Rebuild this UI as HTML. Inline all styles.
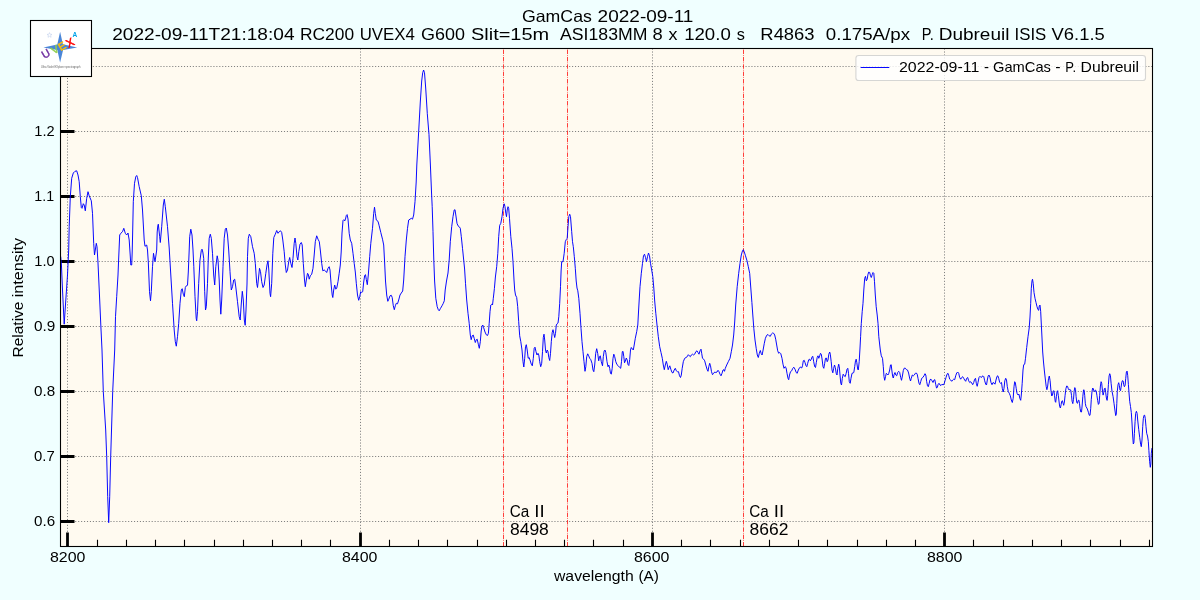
<!DOCTYPE html>
<html lang="en"><head><meta charset="utf-8"><title>GamCas 2022-09-11</title>
<style>html,body{margin:0;padding:0;background:#f0ffff;width:1200px;height:600px;overflow:hidden}svg{will-change:transform;position:absolute;left:0;top:0;display:block}text{font-family:"Liberation Sans",sans-serif;fill:#000}</style></head><body>
<svg width="1200" height="600" viewBox="0 0 1200 600">
<rect x="0" y="0" width="1200" height="600" fill="#f0ffff"/>
<rect x="60.5" y="48.5" width="1092.0" height="498.0" fill="#fffaf0"/>
<path d="M67.5 546.5V48.5M360.5 546.5V48.5M652.5 546.5V48.5M944.5 546.5V48.5M60.5 521.5H1152.5M60.5 456.5H1152.5M60.5 391.5H1152.5M60.5 326.5H1152.5M60.5 261.5H1152.5M60.5 196.5H1152.5M60.5 131.5H1152.5M60.5 66.5H1152.5" fill="none" stroke="#808080" stroke-width="1" stroke-dasharray="1.11 1.83"/>
<path d="M67.5 546.5v-14M360.5 546.5v-14M652.5 546.5v-14M944.5 546.5v-14M60.5 521.5h14M60.5 456.5h14M60.5 391.5h14M60.5 326.5h14M60.5 261.5h14M60.5 196.5h14M60.5 131.5h14" fill="none" stroke="#000" stroke-width="2.8"/>
<path d="M97.5 546.5v-6.8M126.5 546.5v-6.8M155.5 546.5v-6.8M184.5 546.5v-6.8M214.5 546.5v-6.8M243.5 546.5v-6.8M272.5 546.5v-6.8M301.5 546.5v-6.8M330.5 546.5v-6.8M389.5 546.5v-6.8M418.5 546.5v-6.8M447.5 546.5v-6.8M477.5 546.5v-6.8M506.5 546.5v-6.8M535.5 546.5v-6.8M564.5 546.5v-6.8M593.5 546.5v-6.8M623.5 546.5v-6.8M681.5 546.5v-6.8M710.5 546.5v-6.8M740.5 546.5v-6.8M769.5 546.5v-6.8M798.5 546.5v-6.8M827.5 546.5v-6.8M857.5 546.5v-6.8M886.5 546.5v-6.8M915.5 546.5v-6.8M973.5 546.5v-6.8M1003.5 546.5v-6.8M1032.5 546.5v-6.8M1061.5 546.5v-6.8M1090.5 546.5v-6.8M1120.5 546.5v-6.8M1149.5 546.5v-6.8" fill="none" stroke="#000" stroke-width="1.1"/>
<path d="M503.5 546.5V48.5M567.5 546.5V48.5M743.5 546.5V48.5" fill="none" stroke="#ff0000" stroke-width="0.75" stroke-dasharray="4.45 1.1 0.7 1.1"/>
<clipPath id="c"><rect x="60.5" y="48.5" width="1092.0" height="498.0"/></clipPath>
<path clip-path="url(#c)" d="M60.7,256.5 61.4,264 62.5,290 64.2,324.2 65.8,300 67.5,275 68.7,250 69.2,226.7 70.3,196.7 71.7,178.3 73.3,173 75,171.3 76.7,170.8 78,175 79.2,181.7 80.3,196.7 81.3,207.5 82,208.3 83.3,203.7 84.2,205 85.3,210.8 86.7,198.3 88,191.7 89.2,195.8 91.3,200.8 92.5,213.3 93.7,243.3 94.5,255 95.3,250 96.3,243.3 97,246.7 98,263 99.7,300 100.8,325 102,350 103.3,391.7 105.7,430 106.7,456.7 107.7,496.7 108.7,522.7 109.7,496.7 110.7,456.7 112.7,391.7 114.7,350 115.5,316.7 116.7,296.7 118,275 118.7,258 119.7,235 120.8,233.3 122.5,231.7 123.8,228.3 125.3,233.3 126.7,235 128,233 129.2,240 130.2,255 130.8,265 131.7,265 132.2,252 132.6,235 133.3,201.7 134.5,183.3 135.8,176.7 136.7,175.5 137.5,177.5 139.2,186.7 141.3,195.8 142.5,210 144.2,240 145,246.3 146.7,245 147.5,250 148.3,262 149.5,291.7 150.5,300.8 151.3,291.7 152.5,266.7 153.5,253.3 154.5,259 155,261.7 156,255 156.7,250 157.2,232 157.8,226 158.3,224.2 159.7,236.7 160.3,242.5 161.7,226.7 163.3,205 164.3,199.2 165.3,206.7 167.5,226.7 169.2,248 170.8,275 172.5,303.3 174.2,330 175.3,341.7 176.3,346.2 177.5,336.7 178.7,323.3 180,303.3 181.3,290 182.2,288.7 183.3,294.2 184.3,296.7 185.3,287.5 186.3,285.8 187.5,285.3 188.3,272 189.2,250 189.7,236.7 190.8,229.2 192,235 193,250 193.8,266.7 195,296.7 196.2,318.3 196.7,320.8 197.5,311.7 198.7,283.3 200,260 201.3,250.5 202,249.2 202.8,252 203.7,258.3 204.7,291.7 205.5,310 206.3,306.7 207.5,283.3 208.3,258 209.2,238.3 210.3,234.2 211.3,238.3 212.5,253.3 213.7,275 214.7,285 215.8,266.7 217.2,255.8 218,260 219.2,280 220,300 220.8,314.2 221.7,300 222.5,280 223,266.7 224.2,238.3 225.3,229.2 226.3,228 227.5,235 228.7,250 230,271.7 231.3,290 232.5,286.7 233.7,280 234.7,279.2 235.8,287 237.5,301.7 239.2,316.7 240.2,320 241.2,305 242.3,291.3 243.3,300 244.3,320 245.2,325.3 246,310 247,284 247.5,256.7 248.3,238.3 249.3,234.2 250.8,236.7 252.5,246.7 254.2,253.3 255.3,263.3 256.7,283.3 257.5,287.5 258.3,280 259.5,268.3 260.5,271.7 261.7,281.7 263,287.5 264.2,285 265.8,273.3 267,265 268,260.8 268.8,270 270,293.3 270.6,296.7 271.7,283.3 272.8,253.3 273.8,237.5 275.3,234.2 276.7,230.5 278,233.3 279.2,231.7 280.5,230.8 281.7,232.5 282.8,240 284.2,251.7 285.3,265 286.3,272.5 287.5,270 288.7,261.7 289.7,257.5 290.8,263.3 292,267.5 293,258.3 294.2,243.3 295,238 295.8,243.3 297,256.7 297.8,260 298.8,251.7 300,244.2 301.3,242.5 302.2,245 303.3,263.3 304.5,280 305.3,286.7 306.3,280 307.5,273.3 308.3,274.2 309.2,279.2 310.3,275.8 311.7,274.2 313,268.3 314.2,255 315.3,241.7 316.7,235.8 318,239.2 319.3,241.7 320.3,250 321.7,263.3 322.8,270.8 324.2,270 325.3,270.8 326.7,272.5 328,268.3 329.2,266.7 330,270 331.2,285 332.2,295 332.8,297.5 333.7,290 334.7,285 335.8,289.2 336.7,288.3 338,281.7 339.2,273.3 340.3,265 341.2,252 342,233 343,220.5 343.8,219.7 344.7,221 345.5,219 346.3,215.5 347.1,214.6 348,219 349.2,233.3 350.3,240 351.7,243.3 353,253.3 354.2,263.3 355.3,272 356.3,283.3 357.5,295 358.7,300.3 359.7,296.7 360.7,291.7 361.7,292.5 362.7,291.7 363.7,282 364.7,275.4 365.5,274.7 366.3,279.5 367.3,284.7 368.3,275 369.7,256.7 370.8,243.3 372.5,228.3 373.7,213.3 374.5,207.2 375.3,213.3 376.3,220 378,221.3 379.2,225.8 380.8,232.5 382.5,239.2 383.7,245 384.6,262 385.5,281 386.7,295 387.8,301.3 388.8,299.2 390,295.8 391.3,295.3 392.2,297.5 393.3,305.8 394.3,309.7 395.3,305.8 396.3,303.3 397.5,303.8 398.7,300 400,295 401.3,293 402.7,291 403.7,280 405,256.7 406.3,240 407.5,228.3 408.7,220 410,219.2 411.3,218.3 412.5,219.2 413.7,215 415,201.7 416.2,182 416.8,165 418.7,131.2 420.3,102 421.7,81 422.7,72.8 423.6,70 424.5,72.8 425.7,88 427.3,113.7 429,134.7 430.4,165 431.5,192 432.2,206.7 433,231.7 433.8,260 434.6,281 435.8,298.3 437.2,306.7 438.3,309.7 439.2,310.8 440.3,308.7 442,305.8 443.3,303.3 444.3,300.8 445.2,290 446.5,281 448,273 449.2,260 450.3,241.7 451.7,226.7 453,216.7 454.2,210 455,209.7 455.8,215 457,223.3 458,225.8 459.2,226.7 460.3,228.3 461.3,236.7 462.5,248.3 463.7,260 464.6,269 465.5,283.3 466.7,300 468,313.3 469.2,323.3 470.3,335 471.2,339.7 472.2,335.8 473.2,335 474.2,338.3 475.3,342.5 476.3,339.7 477.2,339.2 478.3,344.2 479.3,348.3 480.3,341.7 481.2,331 482,326 482.8,325 483.7,327.8 485,332 486.3,334.8 487.5,335.5 488.4,333.3 489.2,323.3 490,311.7 490.8,305 491.7,304.2 492.5,305 493.3,298.3 494.4,288.5 495.4,277 496.7,266.7 497.8,253.3 498.7,236.7 499.7,225.3 500.8,223.3 502,216.7 503,208.3 504.2,203.8 505,206.7 505.8,213.3 506.5,216.7 507.2,210 508,206.7 508.7,208.3 509.5,218.3 510.8,236.7 512,248.3 513,261.7 514,280 514.7,290 515.5,295 516.7,297.5 517.7,306.7 518.7,321.7 519.7,335.8 520.8,341.7 522,350 523,361.7 523.8,367 524.7,358.3 525.5,346.7 526.3,344.7 527.2,350 528.2,358.3 529.2,357.5 530,360 531.3,364.2 532.3,365.8 533.3,358.3 534.2,348.3 535,347.2 536,351.7 537,355 538,353.3 538.8,355 539.7,361.7 540.7,366.7 541.7,363.3 542.5,351.7 543.3,337.5 544,334.2 544.7,340 545.5,350 546.3,353 547.2,350 548,351.7 548.8,357.5 549.7,360.5 550.5,353.3 551.3,341.7 552.2,332.5 553,329.7 553.8,333.3 554.7,337.5 555.5,333.3 556.3,325 557.2,323.7 558,323 558.8,316.7 559.7,303.3 560.5,286.7 561.1,271 561.7,261.7 563,261.7 564.2,253.3 565.3,241.7 566.2,239.7 567.2,238.3 568,226.7 568.8,216.7 569.7,214.2 570.5,216.7 571.7,231.7 572.5,241.7 573.3,246.7 574.3,256.7 575.3,268.3 576.2,281 577,288 577.8,290.8 578.8,298.3 580,313.3 581,328.3 582,341.7 583,351.7 584,361.7 585,371.3 585.8,366.7 586.7,356.7 587.7,353.8 588.7,355.8 589.7,358.3 590.8,359.7 592,363.3 593,370 593.8,371.7 594.7,365 595.7,353.3 596.7,348.7 597.7,353.3 598.7,360.8 599.5,356.7 600.3,355.8 601.3,361.7 602.5,365.8 603.3,356.7 604.2,350.8 605,350 605.8,352.5 607,361.7 608,366.7 608.8,365 609.7,368.3 610.5,373.3 611.3,374.2 612.2,368.3 613,358.3 613.8,354.2 614.7,356.7 615.8,361.7 617,364.7 618.3,365.8 619.7,367.5 620.7,368.3 621.5,361.7 622.3,351.7 623,351.3 623.8,356.7 624.5,362.8 625.3,361 626.3,358 627.2,360 628,364.5 628.8,365.5 629.7,359.5 630.5,350 631.3,347.5 632.5,349.2 633.3,350 634.2,345 635.3,338.3 636.7,331.7 637.8,325 638.5,312 639.2,300 640,286.7 641.3,273.3 642.5,263.3 643.5,255.8 644.5,254.2 645.5,257.5 646.5,261.7 647.5,256.7 648.5,253 649.5,255.8 650.5,263.3 651.7,270 652.8,276.7 653.8,288 654.7,301 655.8,313.3 657,325 658.3,336.7 659.7,346.7 661,352.5 662.3,358.3 663.3,365 664.3,369.7 665.3,365 666.3,361.3 667.2,364.2 668.2,369.7 669,367.5 669.8,365.8 670.8,369.2 672,372.5 673,373 674.2,370 675.3,368.3 676.3,370.8 677.5,371.7 678.5,371.7 679.5,375.8 680.5,377.5 681.3,375 682.2,368.3 683.3,361.7 684.7,358.3 686,357.5 687.2,356.7 688.3,354.7 689.3,355.8 690.3,356.7 691.3,355 692.5,354.2 693.7,355 694.7,354.2 695.8,351.7 697,350.8 698,352.5 699,354.2 700,350.8 701,349.2 701.7,353.3 702.5,358.3 703.7,359.2 704.7,360.8 705.8,365 707,369.2 708,371.3 708.8,366.7 709.7,363.3 710.5,365.8 711.5,371.7 712.5,374.7 713.7,373.3 714.7,372 715.8,372.5 717,372 718,370.3 719,371.7 720,374.2 721,375.8 722,373.3 723,370 723.8,369.7 724.5,371.3 725.3,368.3 726.7,365 728.3,361.7 730,358.3 731.3,351.7 732.5,345 733.7,335 734.7,322 735.7,305 737.2,286.7 738.7,273.3 740,263.3 741.3,255 742.5,250.8 743.3,249.7 744.2,251.7 745.5,255.8 747,260.8 748.3,266.7 749.7,273.3 750.8,288 751.9,302.5 752.8,315 753.8,328.3 755,340 756.2,348.3 757.3,355 758.3,357.5 759.3,353.3 760.3,350.5 761.2,353.5 762.1,355 763.1,350 764.3,343.3 765.4,338.3 766.7,335.3 768,334.5 769.2,335.8 770.3,336.3 771.3,334.2 772.5,333 773.7,333.3 774.7,335 775.7,339.2 776.7,345 777.7,350.8 778.7,353.3 779.7,352.5 780.8,353.7 782,358.3 783,364.2 784,368.3 785,366.7 786,367.5 787,373.3 788,378.3 788.7,379.7 789.5,375 790.5,371.7 791.7,370.8 792.8,368.3 793.8,367.2 795,369.2 796.2,372.5 797.2,373.3 798.3,370 799.7,367.5 800.8,367.2 801.7,368 802.5,365.8 803.3,360.8 804.2,360.3 805,362.5 806,365.8 806.8,366.7 807.7,363.3 808.7,359.7 809.5,359.2 810.3,360.8 811.3,359.2 812.2,356.7 812.8,356.3 813.7,361.7 814.7,366.7 815.5,367.5 816.3,362.5 817.2,357.5 818,355.8 818.8,358.3 819.7,355.8 820.5,353.3 821.3,354.2 822.2,360 823,366.7 823.8,368.3 824.7,363.3 825.5,358.3 826.3,358 827.2,361.7 828,360 828.8,354.2 829.7,352 830.3,354.2 831.2,361.7 832,370 832.8,372.8 833.7,368.3 834.5,365 835.3,367.5 836.2,373.3 837,375 837.8,368.3 838.7,364.2 839.3,366.7 840,375 840.8,383.3 841.5,385 842.3,378.3 843.2,374.2 844.2,375.8 845.2,376.7 846.2,373.3 847,369.2 847.8,368.3 848.5,373.3 849.3,381.7 850.2,383.3 851,378.3 852,373.3 853,373 853.8,372.5 854.7,366.7 855.5,360.8 856.2,359.2 856.8,362.5 857.7,369.2 858.3,370 859.2,361.7 860,348 860.6,336.7 861.3,323.3 862.2,311.7 863,303.3 863.8,290 864.7,278.3 865.5,276.3 866.3,280.8 867.2,279.2 868,274.2 868.8,272 869.7,272.5 870.5,275.8 871.3,277.5 872.2,274.7 873,272.5 873.8,273.3 874.5,281.7 875.3,295 876.2,306.7 877.2,315 878,323.3 878.8,336.7 879.5,343 880.3,350 881.3,355.8 882.5,358.3 883.3,366.7 884,376.7 884.7,380.3 885.5,376.7 886.3,373.3 887.2,374.2 888,375 888.8,373.3 889.7,370 890.5,365 891.2,364.7 891.8,370 892.7,376.7 893.3,378 894.2,374.2 895,372.5 895.8,375 896.7,375.8 897.7,372.5 898.7,371.3 899.7,372.5 900.7,377.5 901.5,380.3 902.4,376 903.3,370.5 904.3,368.1 905.3,368.2 906.3,369.5 907.5,370 908.6,373 909.6,378 910.5,381 911.3,378.3 912.3,375 913.3,375.8 914.3,375 915.3,373.3 916.3,373 917.2,374.2 918,378.3 919,383.3 919.8,384.7 920.7,381.7 921.7,378.3 922.8,377.5 924,375.8 925,373.7 925.8,375 926.7,381.7 927.5,385.8 928.3,386.7 929.2,383.3 930,379.7 931,379.2 932,380.8 933,382.5 934,380 934.8,379.7 935.7,384.2 936.5,388 937.3,387.5 938.2,384.2 939,383.3 940,385 941,385.5 942,384.2 943,385 944,384.2 945,380.8 946,377.5 947,374.2 948,373.3 948.8,375.8 949.7,379.2 950.7,380 951.7,381.3 952.7,380 953.7,379.2 954.7,379.7 955.7,375.8 956.7,373 957.7,372 958.7,373.3 959.7,377.5 960.7,379.2 961.7,377.5 962.7,376.7 963.7,378.3 964.7,380 965.7,381.3 966.7,378.3 967.7,377.5 968.7,380.8 969.7,382.5 970.7,381.7 971.7,383 972.7,384.7 973.7,382.5 974.7,379.2 975.5,378.3 976.3,383.3 977.2,386.3 978,382.5 979,377.5 980,376.3 981,377.5 982,376.7 983,375.8 983.8,376.7 984.7,380.8 985.7,384.2 986.5,385 987.3,380 988.2,375.8 989,375 990,377.5 991,382.5 992,384.7 993,382.5 994,383 995,384.2 996,380 997,376.3 997.8,375.8 998.7,378.3 999.7,382.5 1000.7,383.3 1001.5,382.5 1002.3,388.3 1003.2,392 1004,388.3 1004.8,380.8 1005.7,378.3 1006.5,380 1007.3,386.7 1008.3,391.7 1009.3,393.3 1010.3,395.8 1011.3,400 1012.3,402.5 1013.2,398.3 1014,386.7 1014.7,381.7 1015.3,382.5 1016.2,388.3 1017,393.3 1018,395 1019,394.2 1019.8,398.3 1020.7,400.3 1021.3,395 1022.2,383.3 1023,370 1023.7,364.7 1024.7,364.2 1025.5,358.3 1026.7,347.5 1028,336.7 1029.2,328 1030,317 1030.7,303.3 1031.3,288.3 1032,280.8 1032.5,279.2 1033.2,283.3 1034,292.5 1035,298.3 1036,302.5 1037,306.7 1038,309.7 1038.7,310.3 1039.3,305.8 1040,305 1040.7,311.7 1041.3,324 1042,338 1042.7,352 1043.5,362 1044.4,371 1045.3,379 1046.2,386.5 1046.9,389.7 1047.7,386 1048.5,378.7 1049.3,376 1050.1,380.7 1050.9,390 1051.7,396 1052.4,395.3 1053.1,391.3 1053.9,390.7 1054.5,395.3 1055.2,401.3 1055.7,402.3 1056.4,396.7 1057.1,391.3 1057.6,390.7 1058.3,395.3 1059.1,402 1059.7,406.7 1060.4,408 1061.1,404.7 1061.7,401.3 1062.4,400.7 1063.1,403.3 1063.7,405.3 1064.4,402 1065.1,395.3 1065.9,388.7 1066.7,386 1067.5,386.3 1068.3,388.7 1069.1,390 1069.9,389.3 1070.7,390 1071.5,395.3 1072.1,401.3 1072.8,403.6 1073.5,399.3 1074.1,391.3 1074.8,387.6 1075.5,389.3 1076.1,396.7 1076.8,402.7 1077.5,403.3 1078.1,400.7 1078.8,400 1079.5,403.3 1080.1,408.7 1080.8,412 1081.5,412 1082.1,406 1082.8,396.7 1083.5,390 1084,389.7 1084.7,395.3 1085.3,403.3 1086,406.7 1086.9,408 1087.7,410 1088.5,412.7 1089.3,415.3 1090,415.3 1090.7,408.7 1091.3,399.3 1092,391.3 1092.7,388 1093.3,388.7 1094,391.3 1094.7,392 1095.3,390 1096.1,390.7 1096.9,395.3 1097.7,400.7 1098.4,404.4 1099.1,403.3 1099.7,395.3 1100.4,386 1101.1,381.7 1101.7,383.3 1102.4,390 1103.1,395.1 1103.7,392.7 1104.4,388.7 1105.1,388 1105.7,392.7 1106.4,398 1107.1,400.4 1107.7,395.3 1108.4,384.7 1109.1,376 1109.7,373.7 1110.4,375.3 1111.1,383.3 1112,391.3 1113.1,396.7 1114,403.3 1114.9,410 1115.7,415.6 1116.3,414 1116.8,403.3 1117.3,391.3 1118,384.7 1118.7,382.7 1119.3,385.3 1120,390 1120.5,390.7 1121.1,387.3 1121.7,382.7 1122.4,380.7 1123.1,380.9 1123.7,384.7 1124.4,386.7 1125.1,385.3 1125.7,378.7 1126.4,372 1127.1,371.1 1127.7,375.3 1128.4,384.7 1129.1,394 1129.7,401.3 1130.5,406.5 1131.3,412.5 1132,423 1132.7,436 1133.3,444 1133.9,442.7 1134.4,433.3 1135.1,421.3 1135.7,413.3 1136.4,411.3 1137.1,413.3 1137.7,420 1138.7,429.3 1139.7,437.3 1140.7,444.7 1141.3,446.7 1142,440 1142.7,426.7 1143.3,418.7 1144,415.3 1144.7,415.3 1145.3,418.7 1146,426.7 1146.7,433.3 1147.5,436 1148.3,441.3 1148.9,450.7 1149.6,461.3 1150.3,467.3 1150.8,464 1151.3,453.3 1152,448" fill="none" stroke="#0000ff" stroke-width="0.97" stroke-linejoin="round"/>
<rect x="60.5" y="48.5" width="1092.0" height="498.0" fill="none" stroke="#000" stroke-width="1.1"/>
<rect x="855.9" y="55.5" width="289.6" height="25" rx="2.8" ry="2.8" fill="#ffffff" fill-opacity="0.8" stroke="#cccccc" stroke-opacity="0.8" stroke-width="1.1"/>
<path d="M860.6 67.5H889.3" stroke="#0000ff" stroke-width="0.97" fill="none"/>
<text y="21.8" font-size="16.5"><tspan x="521.96" textLength="69.90" lengthAdjust="spacingAndGlyphs">GamCas</tspan> <tspan x="597.64" textLength="95.81" lengthAdjust="spacingAndGlyphs">2022-09-11</tspan></text>
<text y="39.8" font-size="16.5"><tspan x="112.24" textLength="182.29" lengthAdjust="spacingAndGlyphs">2022-09-11T21:18:04</tspan> <tspan x="300.03" textLength="54.04" lengthAdjust="spacingAndGlyphs">RC200</tspan> <tspan x="359.65" textLength="55.24" lengthAdjust="spacingAndGlyphs">UVEX4</tspan> <tspan x="421.06" textLength="43.92" lengthAdjust="spacingAndGlyphs">G600</tspan> <tspan x="471.01" textLength="78.19" lengthAdjust="spacingAndGlyphs">Slit=15m</tspan> <tspan x="560.05" textLength="87.38" lengthAdjust="spacingAndGlyphs">ASI183MM</tspan> <tspan x="652.52" textLength="10.23" lengthAdjust="spacingAndGlyphs">8</tspan> <tspan x="668.42" textLength="8.93" lengthAdjust="spacingAndGlyphs">x</tspan> <tspan x="684.15" textLength="46.64" lengthAdjust="spacingAndGlyphs">120.0</tspan> <tspan x="736.78" textLength="8.15" lengthAdjust="spacingAndGlyphs">s</tspan> <tspan x="760.36" textLength="54.16" lengthAdjust="spacingAndGlyphs">R4863</tspan> <tspan x="825.77" textLength="84.33" lengthAdjust="spacingAndGlyphs">0.175A/px</tspan> <tspan x="921.80" textLength="11.92" lengthAdjust="spacingAndGlyphs">P.</tspan> <tspan x="938.66" textLength="70.80" lengthAdjust="spacingAndGlyphs">Dubreuil</tspan> <tspan x="1014.54" textLength="31.75" lengthAdjust="spacingAndGlyphs">ISIS</tspan> <tspan x="1051.55" textLength="53.22" lengthAdjust="spacingAndGlyphs">V6.1.5</tspan></text>
<text y="71.6" font-size="13.9"><tspan x="898.99" textLength="80.27" lengthAdjust="spacingAndGlyphs">2022-09-11</tspan> <tspan x="984.07" textLength="5.00" lengthAdjust="spacingAndGlyphs">-</tspan> <tspan x="993.01" textLength="57.97" lengthAdjust="spacingAndGlyphs">GamCas</tspan> <tspan x="1055.29" textLength="5.34" lengthAdjust="spacingAndGlyphs">-</tspan> <tspan x="1065.36" textLength="10.67" lengthAdjust="spacingAndGlyphs">P.</tspan> <tspan x="1080.55" textLength="58.56" lengthAdjust="spacingAndGlyphs">Dubreuil</tspan></text>
<text y="580.7" font-size="13.9"><tspan x="553.99" textLength="79.76" lengthAdjust="spacingAndGlyphs">wavelength</tspan> <tspan x="638.43" textLength="20.49" lengthAdjust="spacingAndGlyphs">(A)</tspan></text>
<text y="516.75" font-size="16.0"><tspan x="509.65" textLength="19.56" lengthAdjust="spacingAndGlyphs">Ca</tspan> <tspan x="534.27" textLength="10.37" lengthAdjust="spacingAndGlyphs">II</tspan></text>
<text y="534.7" font-size="16.0"><tspan x="509.94" textLength="38.90" lengthAdjust="spacingAndGlyphs">8498</tspan></text>
<text y="516.75" font-size="16.0"><tspan x="749.25" textLength="19.56" lengthAdjust="spacingAndGlyphs">Ca</tspan> <tspan x="773.87" textLength="10.37" lengthAdjust="spacingAndGlyphs">II</tspan></text>
<text y="534.7" font-size="16.0"><tspan x="749.54" textLength="38.87" lengthAdjust="spacingAndGlyphs">8662</tspan></text>
<text y="561.9" font-size="13.9"><tspan x="50.02" textLength="35.42" lengthAdjust="spacingAndGlyphs">8200</tspan></text>
<text y="561.9" font-size="13.9"><tspan x="342.02" textLength="35.42" lengthAdjust="spacingAndGlyphs">8400</tspan></text>
<text y="561.9" font-size="13.9"><tspan x="634.02" textLength="35.42" lengthAdjust="spacingAndGlyphs">8600</tspan></text>
<text y="561.9" font-size="13.9"><tspan x="927.02" textLength="35.42" lengthAdjust="spacingAndGlyphs">8800</tspan></text>
<text y="526.15" font-size="13.9"><tspan x="34.01" textLength="21.11" lengthAdjust="spacingAndGlyphs">0.6</tspan></text>
<text y="461.15" font-size="13.9"><tspan x="34.01" textLength="20.67" lengthAdjust="spacingAndGlyphs">0.7</tspan></text>
<text y="396.15" font-size="13.9"><tspan x="34.01" textLength="21.11" lengthAdjust="spacingAndGlyphs">0.8</tspan></text>
<text y="331.15" font-size="13.9"><tspan x="33.98" textLength="21.31" lengthAdjust="spacingAndGlyphs">0.9</tspan></text>
<text y="266.15" font-size="13.9"><tspan x="34.33" textLength="20.33" lengthAdjust="spacingAndGlyphs">1.0</tspan></text>
<text y="201.15" font-size="13.9"><tspan x="34.36" textLength="19.76" lengthAdjust="spacingAndGlyphs">1.1</tspan></text>
<text y="136.15" font-size="13.9"><tspan x="34.33" textLength="20.32" lengthAdjust="spacingAndGlyphs">1.2</tspan></text>
<text transform="translate(23.1,400.0) rotate(-90)" y="0" font-size="13.9"><tspan x="42.45" textLength="56.03" lengthAdjust="spacingAndGlyphs">Relative</tspan> <tspan x="102.71" textLength="59.45" lengthAdjust="spacingAndGlyphs">intensity</tspan></text>
<g id="logo">
<rect x="30.5" y="20.5" width="61" height="56" fill="#ffffff" stroke="#000" stroke-width="1.1"/>
<path d="M60.1 31.8 L62.9 44.3 L77.2 47.4 L63.1 50.1 L60.1 62.6 L57.3 50.1 L43.4 47.4 L57.3 44.5Z" fill="#4a86d8"/>
<path d="M49.5 32.6l.7 1.7 1.8.1-1.4 1.1.5 1.8-1.6-1-1.5 1 .4-1.8-1.4-1.1 1.8-.1z" fill="none" stroke="#b8c8e8" stroke-width="0.5"/>
<g font-size="10" stroke-width="0.45">
<text transform="translate(44.2,59) rotate(-30)" style="fill:#7030a0;stroke:#7030a0" font-size="11">U</text>
<text transform="translate(53.8,54.4) rotate(-30)" style="fill:#92d050;stroke:#92d050" font-size="10.5">V</text>
<text transform="translate(60.8,51) rotate(-30)" style="fill:#ffc000;stroke:#ffc000" font-size="10.5">E</text>
<text transform="translate(68.6,48) rotate(-28)" style="fill:#ff0000;stroke:#ff0000" font-size="11.5">X</text>
<text transform="translate(72.5,37.4)" style="fill:#00a2e8" font-weight="bold" font-size="6.5">A</text>
</g>
<text x="41" y="67.8" font-size="3.4" textLength="39.5" lengthAdjust="spacingAndGlyphs" style="fill:#5f5f5f">Ultra Violet EXplorer spectrograph</text>
</g>
</svg></body></html>
